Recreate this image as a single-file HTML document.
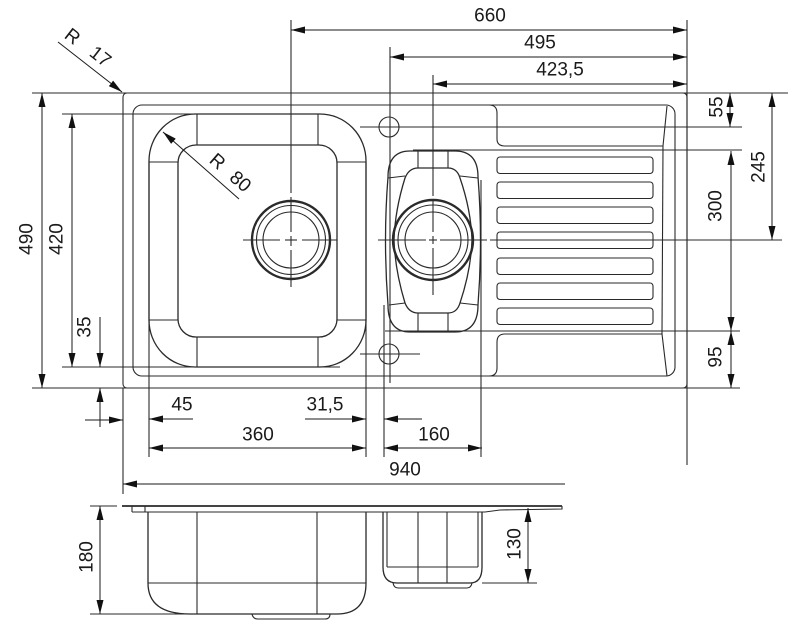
<!DOCTYPE html>
<html><head><meta charset="utf-8"><style>
html,body{margin:0;padding:0;background:#fff;}
svg{display:block;}
text{font-family:"Liberation Sans",Arial,sans-serif;font-size:19px;fill:#1a1a1a;}
</style></head><body>
<svg width="794" height="640" viewBox="0 0 794 640" xmlns="http://www.w3.org/2000/svg">
<defs>
<marker id="a" markerUnits="userSpaceOnUse" markerWidth="14" markerHeight="7" refX="14" refY="3.5" orient="auto-start-reverse">
<path d="M0,0 L14,3.5 L0,7 z" fill="#111"/>
</marker>
</defs>
<g fill="none" stroke="#2a2a2a" stroke-width="1.1">
<!-- outer & inner rects -->
<rect x="123" y="93" width="564" height="295" rx="4"/>
<rect x="133" y="105" width="542" height="271" rx="9"/>
<!-- extension lines -->
<line x1="32" y1="93" x2="788" y2="93"/>
<line x1="32" y1="388" x2="740" y2="388"/>
<line x1="62" y1="114" x2="192" y2="114"/>
<line x1="62" y1="367" x2="340" y2="367"/>
<line x1="360" y1="127" x2="742" y2="127"/>
<line x1="413" y1="150" x2="742" y2="150"/>
<line x1="385" y1="331" x2="740" y2="331"/>
<line x1="490" y1="240" x2="782" y2="240"/>
<line x1="291" y1="20" x2="291" y2="193"/>
<line x1="390" y1="47" x2="390" y2="383"/>
<line x1="433" y1="75" x2="433" y2="196"/>
<line x1="687" y1="20" x2="687" y2="465"/>
<line x1="149" y1="162" x2="149" y2="457"/>
<line x1="366" y1="162" x2="366" y2="457"/>
<line x1="384" y1="305" x2="384" y2="457"/>
<line x1="481" y1="180" x2="481" y2="457"/>
<line x1="123" y1="388" x2="123" y2="494"/>
<!-- big bowl -->
<rect x="149" y="114" width="217" height="253" rx="46" ry="47" stroke-width="1.3"/>
<rect x="178" y="145" width="159" height="192" rx="18" stroke-width="1.3"/>
<line x1="197" y1="114" x2="197" y2="145"/>
<line x1="318" y1="114" x2="318" y2="145"/>
<line x1="197" y1="337" x2="197" y2="367"/>
<line x1="318" y1="337" x2="318" y2="367"/>
<line x1="149" y1="162" x2="178" y2="162"/>
<line x1="337" y1="162" x2="366" y2="162"/>
<line x1="149" y1="320" x2="178" y2="320"/>
<line x1="337" y1="320" x2="366" y2="320"/>
<!-- big drain -->
<circle cx="291" cy="240" r="39" stroke-width="2.4"/>
<circle cx="291" cy="240" r="34.5"/>
<circle cx="291" cy="240" r="28"/>
<line x1="291" y1="197" x2="291" y2="232"/>
<line x1="291" y1="236" x2="291" y2="246"/>
<line x1="291" y1="250" x2="291" y2="287"/>
<line x1="243" y1="240" x2="280" y2="240"/>
<line x1="285" y1="240" x2="297" y2="240"/>
<line x1="302" y1="240" x2="337" y2="240"/>
<!-- small bowl -->
<path d="M410,151 L455,151 Q478,151 478,177 Q483,240 478,305 Q478,332 455,332 L410,332 Q388,332 388,305 Q383,240 388,177 Q388,151 410,151 Z" stroke-width="1.3"/>
<path d="M418,168 L448,168 Q457,168 460,178 Q471,210 472,240 Q471,270 460,303 Q457,313 448,313 L418,313 Q409,313 405,303 Q395,270 394,240 Q395,210 405,178 Q409,168 418,168 Z" stroke-width="1.3"/>
<line x1="418" y1="151" x2="418" y2="168"/>
<line x1="448" y1="151" x2="448" y2="168"/>
<line x1="418" y1="313" x2="418" y2="332"/>
<line x1="448" y1="313" x2="448" y2="332"/>
<line x1="388" y1="178" x2="405" y2="176"/>
<line x1="460" y1="176" x2="478" y2="178"/>
<line x1="389" y1="305" x2="405" y2="303"/>
<line x1="460" y1="303" x2="478" y2="305"/>
<circle cx="433" cy="240" r="40" stroke-width="2.4"/>
<circle cx="433" cy="240" r="35"/>
<circle cx="433" cy="240" r="28"/>
<line x1="433" y1="200" x2="433" y2="232"/>
<line x1="433" y1="236" x2="433" y2="244"/>
<line x1="433" y1="248" x2="433" y2="295"/>
<line x1="378" y1="240" x2="426" y2="240"/>
<line x1="429" y1="240" x2="437" y2="240"/>
<line x1="440" y1="240" x2="487" y2="240"/>
<!-- faucet holes -->
<circle cx="389" cy="127" r="10"/>
<circle cx="389" cy="354" r="10"/>
<line x1="360" y1="354" x2="420" y2="354"/>
<!-- drainboard -->
<path d="M489,105 Q497,105 497,113 L497,139 Q497,146 505,146 L663,146 L667,106"/>
<line x1="663" y1="146" x2="662" y2="334"/>
<path d="M489,376 Q497,376 497,368 L497,342 Q497,334 505,334 L662,334 L667,376"/>
<rect x="497" y="157" width="156" height="16.5" rx="3"/>
<rect x="497" y="182" width="156" height="16.5" rx="3"/>
<rect x="497" y="207" width="156" height="16.5" rx="3"/>
<rect x="497" y="232" width="156" height="16.5" rx="3"/>
<rect x="497" y="258" width="156" height="16.5" rx="3"/>
<rect x="497" y="283" width="156" height="16.5" rx="3"/>
<rect x="497" y="308" width="156" height="16.5" rx="3"/>
<!-- side view -->
<line x1="122" y1="506" x2="562" y2="506" stroke-width="1.8"/>
<line x1="132" y1="512" x2="485" y2="512"/>
<line x1="132" y1="506" x2="132" y2="512"/>
<line x1="145" y1="506" x2="145" y2="512"/>
<path d="M485,512 L500,510 L562,509 L562,506"/>
<line x1="90" y1="506" x2="117" y2="506"/>
<path d="M148,512 L148,583 Q148,614 190,614 L337,614 Q366,614 366,583 L366,512" stroke-width="1.3"/>
<line x1="90" y1="614" x2="190" y2="614"/>
<line x1="148" y1="583" x2="366" y2="583"/>
<line x1="197" y1="512" x2="197" y2="614"/>
<line x1="317" y1="512" x2="317" y2="614"/>
<path d="M252,614 Q253,619 258,619 L325,619 Q330,619 330,614"/>
<path d="M383,512 L383,567 Q383,583 397,583 L470,583 Q482,583 482,567 L482,512" stroke-width="1.3"/>
<line x1="387" y1="512" x2="387" y2="567"/>
<line x1="478" y1="512" x2="478" y2="567"/>
<line x1="387" y1="567" x2="478" y2="567"/>
<line x1="418" y1="512" x2="418" y2="583"/>
<line x1="447" y1="512" x2="447" y2="583"/>
<path d="M393,583 Q394,588 398,588 L467,588 Q471,588 472,583"/>
<line x1="482" y1="583" x2="537" y2="583"/>
</g>
<!-- dimension lines with arrows -->
<g fill="none" stroke="#1a1a1a" stroke-width="1">
<line x1="291" y1="30" x2="687" y2="30" marker-start="url(#a)" marker-end="url(#a)"/>
<line x1="390" y1="57" x2="687" y2="57" marker-start="url(#a)" marker-end="url(#a)"/>
<line x1="433" y1="84" x2="687" y2="84" marker-start="url(#a)" marker-end="url(#a)"/>
<line x1="730" y1="93" x2="730" y2="127" marker-start="url(#a)" marker-end="url(#a)"/>
<line x1="772" y1="93" x2="772" y2="240" marker-start="url(#a)" marker-end="url(#a)"/>
<line x1="731" y1="151" x2="731" y2="331" marker-start="url(#a)" marker-end="url(#a)"/>
<line x1="731" y1="331" x2="731" y2="388" marker-start="url(#a)" marker-end="url(#a)"/>
<line x1="42" y1="93" x2="42" y2="388" marker-start="url(#a)" marker-end="url(#a)"/>
<line x1="72" y1="114" x2="72" y2="367" marker-start="url(#a)" marker-end="url(#a)"/>
<line x1="100" y1="317" x2="100" y2="367" marker-end="url(#a)"/>
<line x1="100" y1="427" x2="100" y2="388" marker-end="url(#a)"/>
<line x1="85" y1="420" x2="123" y2="420" marker-end="url(#a)"/>
<line x1="193" y1="419" x2="149" y2="419" marker-end="url(#a)"/>
<line x1="305" y1="419" x2="366" y2="419" marker-end="url(#a)"/>
<line x1="422" y1="419" x2="384" y2="419" marker-end="url(#a)"/>
<line x1="149" y1="448" x2="366" y2="448" marker-start="url(#a)" marker-end="url(#a)"/>
<line x1="384" y1="448" x2="482" y2="448" marker-start="url(#a)" marker-end="url(#a)"/>
<line x1="565" y1="484" x2="123" y2="484" marker-end="url(#a)"/>
<line x1="100" y1="506" x2="100" y2="614" marker-start="url(#a)" marker-end="url(#a)"/>
<line x1="528" y1="508" x2="528" y2="583" marker-start="url(#a)" marker-end="url(#a)"/>
<line x1="58" y1="42" x2="122" y2="92" marker-end="url(#a)"/>
<line x1="239" y1="199" x2="163" y2="132" marker-end="url(#a)"/>
</g>
<!-- labels -->
<g text-anchor="middle" dominant-baseline="central">
<text x="490" y="16">660</text>
<text x="540" y="43">495</text>
<text x="560" y="70">423,5</text>
<text transform="translate(717,107) rotate(-90)">55</text>
<text transform="translate(759,167) rotate(-90)">245</text>
<text transform="translate(716,206) rotate(-90)">300</text>
<text transform="translate(716,357) rotate(-90)">95</text>
<text transform="translate(27,239) rotate(-90)">490</text>
<text transform="translate(57,239) rotate(-90)">420</text>
<text transform="translate(85,327) rotate(-90)">35</text>
<text x="182" y="405">45</text>
<text x="325" y="405">31,5</text>
<text x="258" y="435">360</text>
<text x="434" y="435">160</text>
<text x="405" y="470">940</text>
<text transform="translate(87,557) rotate(-90)">180</text>
<text transform="translate(515,544) rotate(-90)">130</text>
<text transform="translate(72,37) rotate(38)">R</text>
<text transform="translate(100,57) rotate(38)">17</text>
<text transform="translate(217,162) rotate(41)">R</text>
<text transform="translate(240,182) rotate(41)">80</text>
</g>
</svg>
</body></html>
